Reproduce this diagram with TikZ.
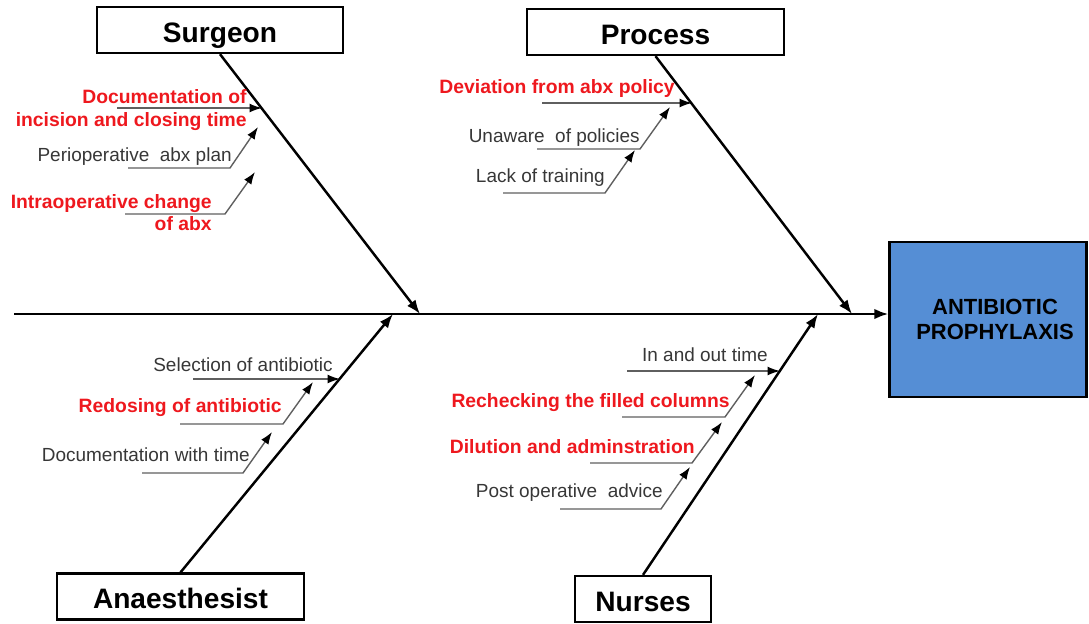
\documentclass[tikz,border=0pt]{standalone}
\usepackage{fontspec}
\setmainfont{Liberation Sans}
\usetikzlibrary{arrows.meta}
\definecolor{causered}{RGB}{238,24,30}
\definecolor{causegray}{RGB}{55,55,55}
\definecolor{subline}{RGB}{95,95,95}
\definecolor{effectblue}{RGB}{85,142,213}
\begin{document}
\begin{tikzpicture}[x=0.02cm,y=-0.02cm,
    head/.style={draw,line width=1.3pt,inner sep=0pt,minimum height=0.92cm,
      text height=14pt,text depth=0pt,
      font=\fontsize{16}{19}\selectfont\bfseries},
    bone/.style={line width=1.4pt,-{Latex[length=8pt,width=6pt]}},
    sub/.style={draw=subline,line width=0.8pt,-{Latex[length=7pt,width=5pt,black]}},
    redtext/.style={anchor=east,inner sep=0pt,align=right,text=causered,
      font=\fontsize{11}{13}\selectfont\bfseries},
    graytext/.style={anchor=east,inner sep=0pt,text=causegray,
      font=\fontsize{10.8}{13}\selectfont}]
  \useasboundingbox (0,0) rectangle (1089,623);

  % effect and spine
  \node[draw,line width=1.3pt,fill=effectblue,minimum width=3.94cm,minimum height=3.1cm,
    align=center,font=\fontsize{12.5}{14.5}\selectfont\bfseries] (effect) at (988,319.5)
    {\hspace*{8pt}ANTIBIOTIC\\\hspace*{8pt}PROPHYLAXIS};
  \coordinate (spine) at (14,314);
  \draw[bone] (spine) -- (spine -| effect.west);

  % main causes
  \node[head,minimum width=4.92cm] (surgeon) at (220,30) {Surgeon};
  \node[head,minimum width=5.14cm] (process) at (655.5,32) {Process};
  \node[head,minimum width=4.94cm] (anaes) at (180.5,596.5) {Anaesthesist};
  \node[head,minimum width=2.72cm] (nurses) at (643,599) {Nurses};
  \coordinate (sjoin) at (420,314);
  \coordinate (pjoin) at (852,314);
  \coordinate (ajoin) at (393,314);
  \coordinate (njoin) at (818,314);
  \draw[bone] (surgeon.south) -- (sjoin);
  \draw[bone] (process.south) -- (pjoin);
  \draw[bone] (anaes.north) -- (ajoin);
  \draw[bone] (nurses.north) -- (njoin);

  % surgeon
  \node[redtext] (sdoc) at (247,110) {Documentation of\\incision and closing time};
  \node[graytext] (speri) at (232,157) {Perioperative\ \ abx plan};
  \node[redtext,font=\fontsize{11}{12.5}\selectfont\bfseries] (sintra) at (212,213)
    {Intraoperative change\\of abx};
  \coordinate (s1) at (117,108); \coordinate (s1t) at (262,108);
  \coordinate (s2) at (128,168); \coordinate (s2t) at (258,127);
  \coordinate (s3) at (125,214); \coordinate (s3t) at (255,172);
  \draw[sub] (s1) -- (s1t);
  \draw[sub] (s2) -- ++(102,0) -- (s2t);
  \draw[sub] (s3) -- ++(100,0) -- (s3t);

  % process
  \node[redtext] (pdev) at (675,88) {Deviation from abx policy};
  \node[graytext] (punaw) at (640,138) {Unaware\ \ of policies};
  \node[graytext] (plack) at (605,178) {Lack of training};
  \coordinate (p1) at (542,103); \coordinate (p1t) at (692,103);
  \coordinate (p2) at (537,149); \coordinate (p2t) at (670,107);
  \coordinate (p3) at (503,193); \coordinate (p3t) at (635,150);
  \draw[sub] (p1) -- (p1t);
  \draw[sub] (p2) -- ++(103,0) -- (p2t);
  \draw[sub] (p3) -- ++(102,0) -- (p3t);

  % anaesthesist
  \node[graytext] (asel) at (333,365) {Selection of antibiotic};
  \node[redtext] (ared) at (282,408) {Redosing of antibiotic};
  \node[graytext] (adoc) at (250,455) {Documentation with time};
  \coordinate (a1) at (193,379); \coordinate (a1t) at (340,379);
  \coordinate (a2) at (180,424); \coordinate (a2t) at (313,382);
  \coordinate (a3) at (142,473); \coordinate (a3t) at (272,432);
  \draw[sub] (a1) -- (a1t);
  \draw[sub] (a2) -- ++(103,0) -- (a2t);
  \draw[sub] (a3) -- ++(101,0) -- (a3t);

  % nurses
  \node[graytext] (ninout) at (768,355) {In and out time};
  \node[redtext] (nrech) at (730,403) {Rechecking the filled columns};
  \node[redtext] (ndil) at (695,447) {Dilution and adminstration};
  \node[graytext] (npost) at (663,493) {Post operative\ \ advice};
  \coordinate (n1) at (627,371); \coordinate (n1t) at (780,371);
  \coordinate (n2) at (622,417); \coordinate (n2t) at (755,375);
  \coordinate (n3) at (590,463); \coordinate (n3t) at (722,422);
  \coordinate (n4) at (560,509); \coordinate (n4t) at (690,467);
  \draw[sub] (n1) -- (n1t);
  \draw[sub] (n2) -- ++(103,0) -- (n2t);
  \draw[sub] (n3) -- ++(102,0) -- (n3t);
  \draw[sub] (n4) -- ++(101,0) -- (n4t);
\end{tikzpicture}
\end{document}
